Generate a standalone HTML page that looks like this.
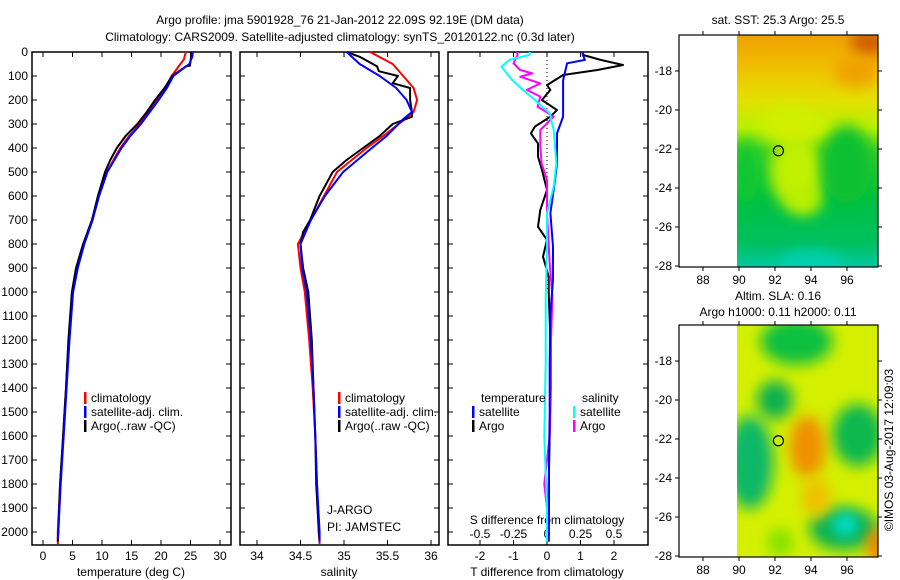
<!DOCTYPE html>
<html><head><meta charset="utf-8">
<style>
html,body{margin:0;padding:0;background:#fff;}
svg{display:block;font-family:"Liberation Sans",sans-serif;}
text{font-size:12px;fill:#000;}
</style></head>
<body>
<svg id="chart" width="900" height="580" viewBox="0 0 900 580" xmlns="http://www.w3.org/2000/svg">
<defs>
<filter id="blur6" x="-60%" y="-60%" width="220%" height="220%"><feGaussianBlur stdDeviation="7"/></filter>
<clipPath id="clipSst"><rect x="737" y="35" width="141" height="232"/></clipPath>
<clipPath id="clipSla"><rect x="737" y="325" width="141" height="232"/></clipPath>
<linearGradient id="sstGrad" x1="0" y1="0" x2="0" y2="1">
<stop offset="0" stop-color="#f0a000"/>
<stop offset="0.14" stop-color="#f0c000"/>
<stop offset="0.28" stop-color="#e4e000"/>
<stop offset="0.4" stop-color="#b8f000"/>
<stop offset="0.5" stop-color="#40d020"/>
<stop offset="0.7" stop-color="#00c040"/>
<stop offset="0.9" stop-color="#00c060"/>
<stop offset="1" stop-color="#00c8a0"/>
</linearGradient>
</defs>
<g>
<text x="340" y="24" text-anchor="middle">Argo profile: jma 5901928_76 21-Jan-2012 22.09S 92.19E (DM data)</text>
<text x="340" y="41" text-anchor="middle">Climatology: CARS2009. Satellite-adjusted climatology: synTS_20120122.nc (0.3d later)</text>
</g>
<g id="axes"></g>
<g id="series"></g>
<g id="maps"></g>
</svg>
<script>
const depthTicks=[0,100,200,300,400,500,600,700,800,900,1000,1100,1200,1300,1400,1500,1600,1700,1800,1900,2000];
const tempTicks=[0,5,10,15,20,25,30];
const salTicks=[34,34.5,35,35.5,36];
const salTickLabels=["34","34.5","35","35.5","36"];
const tdiffTicks=[-2,-1,0,1,2];
const sdiffTicks=[-0.5,-0.25,0,0.25,0.5];
const sdiffTickLabels=["-0.5","-0.25","0","0.25","0.5"];
const latTicks=[-18,-20,-22,-24,-26,-28];
const lonTicks=[88,90,92,94,96];

const tArgoDepth=[0,20,57,60,100,150,200,250,300,350,400,450,500,600,700,800,900,1000,1200,1400,1600,1800,2000,2040];
const tArgo=[25.2,25.1,24.9,24.2,21.9,20.6,19.0,17.6,16.0,14.0,12.5,11.4,10.5,9.3,8.3,6.8,5.6,4.9,4.3,3.9,3.4,2.9,2.6,2.5];
const tClimDepth=[0,30,60,100,150,200,250,300,350,400,500,600,700,800,900,1000,1200,1400,1600,1800,2000,2050];
const tClim=[24.2,23.9,23.0,21.8,20.7,19.3,17.9,16.4,14.6,13.1,10.8,9.4,8.3,6.9,5.8,5.0,4.4,3.9,3.4,2.9,2.5,2.5];
const tSatDepth=[0,20,50,100,150,200,250,300,350,400,500,600,700,800,900,1000,1200,1400,1600,1800,2000,2030];
const tSat=[25.4,25.3,24.8,22.1,21.0,19.6,18.1,16.6,14.8,13.3,10.9,9.5,8.4,7.0,5.9,5.1,4.5,4.0,3.5,3.0,2.6,2.5];

const sArgoDepth=[0,20,60,80,100,130,150,200,250,270,300,350,400,450,500,600,700,750,800,900,1000,1200,1400,1600,1800,2000,2040];
const sArgo=[35.03,35.18,35.38,35.40,35.62,35.56,35.76,35.76,35.78,35.78,35.56,35.41,35.22,35.03,34.87,34.72,34.61,34.53,34.50,34.53,34.59,34.63,34.65,34.67,34.68,34.71,34.72];
const sClimDepth=[0,50,100,150,200,250,280,350,400,500,600,700,800,900,1000,1200,1400,1600,1800,2000,2050];
const sClim=[35.30,35.56,35.68,35.80,35.84,35.80,35.70,35.45,35.26,34.92,34.77,34.62,34.47,34.50,34.55,34.60,34.64,34.67,34.69,34.71,34.72];
const sSatDepth=[0,50,100,150,200,250,280,350,400,500,600,700,800,900,1000,1200,1400,1600,1800,2000,2040];
const sSat=[35.03,35.18,35.41,35.60,35.72,35.78,35.68,35.49,35.32,34.99,34.78,34.62,34.50,34.52,34.57,34.62,34.65,34.67,34.69,34.72,34.72];

const dTArgoDepth=[0,12,33,54,75,96,117,138,158,200,242,269,311,339,381,436,492,575,658,728,783,853,936,1000,1200,1400,1600,1800,2000,2040];
const dTArgo=[1.07,1.07,1.6,2.27,1.5,0.48,0.24,0.0,0.1,-0.15,0.3,0.1,-0.36,-0.48,-0.27,-0.27,-0.15,0.0,-0.2,-0.27,0.0,-0.12,0.05,0.05,0.1,0.1,0.08,0.05,0.05,0.05];
const dTSatDepth=[0,12,33,47,117,186,269,339,464,533,672,811,950,1089,1300,1500,1700,1900,2040];
const dTSat=[1.07,1.07,1.13,0.6,0.48,0.48,0.48,0.3,0.3,0.24,0.1,0.18,0.18,0.1,0.08,0.08,0.06,0.06,0.05];
const dSSatDepth=[0,12,33,61,117,158,200,256,325,464,561,672,811,1019,1300,1600,1900,2040];
const dSSat=[-0.13,-0.13,-0.28,-0.34,-0.26,-0.18,-0.09,0.02,0.05,0.07,0.05,0.0,0.0,-0.01,-0.01,-0.02,0.0,0.0];
const dSArgoDepth=[0,12,47,75,89,103,131,158,186,228,269,325,394,464,533,672,881,1019,1200,1400,1600,1800,1900];
const dSArgo=[-0.22,-0.22,-0.25,-0.2,-0.11,-0.2,-0.05,-0.15,-0.05,-0.07,0.05,-0.05,-0.05,-0.04,0.0,0.0,0.02,0.04,0.03,0.03,0.02,-0.02,0.0];

const NS="http://www.w3.org/2000/svg";
const axesG=document.getElementById('axes');
const seriesG=document.getElementById('series');
const mapsG=document.getElementById('maps');
function mk(tag,attrs,parent){const e=document.createElementNS(NS,tag);for(const k in attrs)e.setAttribute(k,attrs[k]);parent.appendChild(e);return e;}

const TOP=52,BOT=545;
const yD=d=>TOP+d*0.24;
const xT=t=>43+t*5.9;
const xS=s=>257+(s-34)*87;
const xDT=t=>547+t*33.5;
const xDS=s=>547+s*134;
const panels=[{x0:32,x1:231,name:'temperature-panel'},{x0:240,x1:439,name:'salinity-panel'},{x0:448,x1:648,name:'difference-panel'}];

panels.forEach(p=>{
  const r=mk('rect',{x:p.x0,y:TOP,width:p.x1-p.x0,height:BOT-TOP,fill:'none',stroke:'#000','stroke-width':1.5},axesG);
  
  
  depthTicks.forEach(d=>{
    mk('line',{x1:p.x0,x2:p.x0+5,y1:yD(d),y2:yD(d),stroke:'#000'},axesG);
    mk('line',{x1:p.x1,x2:p.x1-5,y1:yD(d),y2:yD(d),stroke:'#000'},axesG);
  });
});
depthTicks.forEach(d=>{
  const t=mk('text',{x:28,y:yD(d)+4,'text-anchor':'end'},axesG);
  t.textContent=d;
  
  
});
function xTicks(vals,labels,fx,y){
  vals.forEach((v,i)=>{
    const x=fx(v);
    mk('line',{x1:x,x2:x,y1:BOT,y2:BOT-5,stroke:'#000'},axesG);
    mk('line',{x1:x,x2:x,y1:TOP,y2:TOP+5,stroke:'#000'},axesG);
    const t=mk('text',{x:x,y:y,'text-anchor':'middle'},axesG);
    t.textContent=labels[i];
    
    
  });
}
xTicks(tempTicks,tempTicks.map(String),xT,560);
xTicks(salTicks,salTickLabels,xS,560);
xTicks(tdiffTicks,tdiffTicks.map(String),xDT,560);
sdiffTicks.forEach((v,i)=>{
  const t=mk('text',{x:xDS(v),y:538,'text-anchor':'middle'},axesG);
  t.textContent=sdiffTickLabels[i];
  
  
});
[[131,'temperature (deg C)','temperature-axis-title'],[339,'salinity','salinity-axis-title'],[547,'T difference from climatology','t-diff-axis-title']].forEach(a=>{
  const t=mk('text',{x:a[0],y:576,'text-anchor':'middle'},axesG);
  t.textContent=a[1];
  
  
});
const sdt=mk('text',{x:547,y:524,'text-anchor':'middle'},axesG);
sdt.textContent='S difference from climatology';


const zl=mk('line',{x1:547,x2:547,y1:TOP,y2:290,stroke:'#000','stroke-dasharray':'1,3'},axesG);



function line(depths,vals,fx,color,name){
  const pts=depths.map((d,i)=>fx(vals[i]).toFixed(1)+','+yD(d).toFixed(1)).join(' ');
  const pl=mk('polyline',{points:pts,fill:'none',stroke:color,'stroke-width':2,'stroke-linejoin':'round'},seriesG);
  
  
}
line(tClimDepth,tClim,xT,'#ff0000','temp-climatology-line');
line(tArgoDepth,tArgo,xT,'#000000','temp-argo-line');
line(tSatDepth,tSat,xT,'#0000ff','temp-satellite-line');
line(sClimDepth,sClim,xS,'#ff0000','sal-climatology-line');
line(sArgoDepth,sArgo,xS,'#000000','sal-argo-line');
line(sSatDepth,sSat,xS,'#0000ff','sal-satellite-line');
line(dTArgoDepth,dTArgo,xDT,'#000000','tdiff-argo-line');
line(dSArgoDepth,dSArgo,xDS,'#ff00ff','sdiff-argo-line');
line(dTSatDepth,dTSat,xDT,'#0000ff','tdiff-satellite-line');
line(dSSatDepth,dSSat,xDS,'#00ffff','sdiff-satellite-line');

function legendEntry(x,y,color,label,name){
  const r=mk('rect',{x:x,y:y-10,width:2.5,height:12,fill:color},seriesG);
  
  
  const t=mk('text',{x:x+7,y:y},seriesG);
  t.textContent=label;
  
  
}
legendEntry(84,402,'#ff0000','climatology','legend-climatology');
legendEntry(84,416,'#0000ff','satellite-adj. clim.','legend-satellite');
legendEntry(84,430,'#000000','Argo(..raw -QC)','legend-argo');
legendEntry(338,402,'#ff0000','climatology','legend-climatology-2');
legendEntry(338,416,'#0000ff','satellite-adj. clim.','legend-satellite-2');
legendEntry(338,430,'#000000','Argo(..raw -QC)','legend-argo-2');
let tt=mk('text',{x:481,y:402},seriesG);tt.textContent='temperature';


tt=mk('text',{x:582,y:402},seriesG);tt.textContent='salinity';


legendEntry(472,416,'#0000ff','satellite','legend-t-satellite');
legendEntry(472,430,'#000000','Argo','legend-t-argo');
legendEntry(573,416,'#00ffff','satellite','legend-s-satellite');
legendEntry(573,430,'#ff00ff','Argo','legend-s-argo');
tt=mk('text',{x:327,y:514},seriesG);tt.textContent='J-ARGO';


tt=mk('text',{x:327,y:531},seriesG);tt.textContent='PI: JAMSTEC';



const xL=lon=>703+(lon-88)*18;
const yL=(lat,off)=>off+71+(-18-lat)*19.5;
const sstBlobsLon=[93.2,93.6,96.0,90.4,97.2,94.0,96.5,93.0];
const sstBlobsLat=[-23.2,-24.6,-22.8,-23.2,-16.5,-28.0,-18.0,-20.8];
const sstBlobsRx=[1.5,1.0,1.4,0.7,1.0,1.8,1.2,1.8];
const sstBlobsRy=[1.8,0.8,2.0,1.6,0.8,0.8,0.8,1.0];
const sstBlobsColor=['#c0f000','#b8f000','#10c030','#10c830','#d06000','#00d0b0','#f0a000','#d0f000'];
const slaBlobsLon=[93.2,92.0,90.6,96.6,95.8,95.9,93.8,94.3,97.8,92.3];
const slaBlobsLat=[-17.0,-20.0,-23.2,-21.8,-26.6,-26.4,-22.4,-25.0,-27.5,-27.3];
const slaBlobsRx=[2.0,1.0,1.3,1.4,1.9,0.7,1.0,0.8,0.7,0.7];
const slaBlobsRy=[1.2,1.0,2.4,1.6,1.1,0.6,1.6,1.0,1.0,0.7];
const slaBlobsColor=['#10c040','#10b050','#10b868','#10b850','#10b050','#00e0d0','#f09000','#f0c000','#f08000','#80e000'];

function blobs(parent,lons,lats,rxs,rys,cols,off,name){
  lons.forEach((lon,i)=>{
    const e=mk('ellipse',{cx:xL(lon),cy:yL(lats[i],off),rx:rxs[i]*18,ry:rys[i]*19.5,fill:cols[i],filter:'url(#blur6)'},parent);
    
    
  });
}
let g1=mk('g',{'clip-path':'url(#clipSst)'},mapsG);


mk('rect',{x:737,y:35,width:141,height:232,fill:'url(#sstGrad)'},g1);
blobs(g1,sstBlobsLon,sstBlobsLat,sstBlobsRx,sstBlobsRy,sstBlobsColor,0,'sst-patch');
let g2=mk('g',{'clip-path':'url(#clipSla)'},mapsG);


mk('rect',{x:737,y:325,width:141,height:232,fill:'#d4f000'},g2);
blobs(g2,slaBlobsLon,slaBlobsLat,slaBlobsRx,slaBlobsRy,slaBlobsColor,290,'sla-patch');

[0,290].forEach(off=>{
  const f=mk('rect',{x:679,y:35+off,width:199,height:232,fill:'none',stroke:'#000','stroke-width':1.2},mapsG);
  
  
  latTicks.forEach(lat=>{
    const y=yL(lat,off);
    mk('line',{x1:679,x2:675,y1:y,y2:y,stroke:'#000'},mapsG);
    mk('line',{x1:878,x2:882,y1:y,y2:y,stroke:'#000'},mapsG);
    const t=mk('text',{x:672,y:y+4,'text-anchor':'end'},mapsG);
    t.textContent=lat;
    
    
  });
  lonTicks.forEach(lon=>{
    const x=xL(lon);
    mk('line',{x1:x,x2:x,y1:267+off,y2:271+off,stroke:'#000'},mapsG);
    mk('line',{x1:x,x2:x,y1:35+off,y2:31+off,stroke:'#000'},mapsG);
    const t=mk('text',{x:x,y:284+off,'text-anchor':'middle'},mapsG);
    t.textContent=lon;
    
    
  });
  const c=mk('circle',{cx:xL(92.19),cy:yL(-22.09,off),r:5,fill:off?'#c8f000':'none',stroke:'#000','stroke-width':1.2},mapsG);
  
  
});
[[778,24,'sat. SST: 25.3 Argo: 25.5','sst-map-title'],[778,300,'Altim. SLA: 0.16','sla-map-title'],[778,316,'Argo h1000: 0.11 h2000: 0.11','sla-map-subtitle']].forEach(a=>{
  const t=mk('text',{x:a[0],y:a[1],'text-anchor':'middle'},mapsG);
  t.textContent=a[2];
  
  
});
const cr=mk('text',{x:0,y:0,'text-anchor':'middle',transform:'translate(893,450) rotate(-90)'},mapsG);
cr.textContent='©IMOS 03-Aug-2017 12:09:03';


</script>
</body></html>
